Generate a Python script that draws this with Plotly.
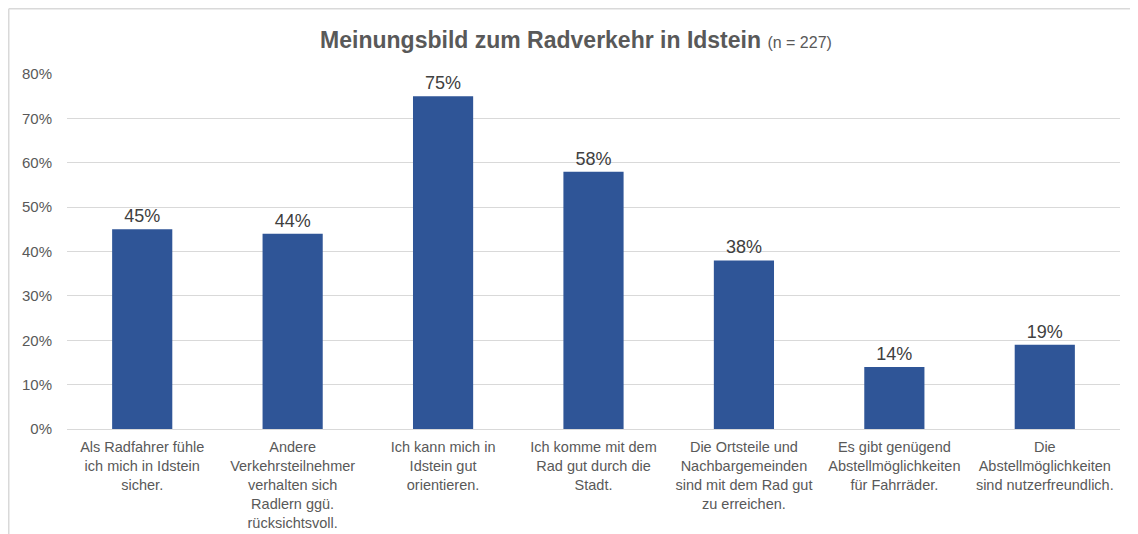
import plotly.graph_objects as go

categories = [
    "Als Radfahrer fühle<br>ich mich in Idstein<br>sicher.",
    "Andere<br>Verkehrsteilnehmer<br>verhalten sich<br>Radlern ggü.<br>rücksichtsvoll.",
    "Ich kann mich in<br>Idstein gut<br>orientieren.",
    "Ich komme mit dem<br>Rad gut durch die<br>Stadt.",
    "Die Ortsteile und<br>Nachbargemeinden<br>sind mit dem Rad gut<br>zu erreichen.",
    "Es gibt genügend<br>Abstellmöglichkeiten<br>für Fahrräder.",
    "Die<br>Abstellmöglichkeiten<br>sind nutzerfreundlich.",
]
values = [0.45, 0.44, 0.75, 0.58, 0.38, 0.14, 0.19]
tick_vals = [0, 0.1, 0.2, 0.3, 0.4, 0.5, 0.6, 0.7, 0.8]

# page body has an 8px margin, so the figure is sized/offset accordingly
W, H = 1130, 526
L, R, T, B = 59, 18, 66, 105
pw, ph = W - L - R, H - T - B

fig = go.Figure(go.Bar(
    x=categories, y=values,
    marker=dict(color="#2F5597", line=dict(width=0)),
    text=[f"{round(v*100)}%" for v in values],
    textposition="outside", cliponaxis=False,
    textfont=dict(family="Liberation Sans, Arial", size=18, color="#404040"),
))

fig.update_layout(
    width=W, height=H,
    margin=dict(l=L, r=R, t=T, b=B, autoexpand=False),
    paper_bgcolor="white", plot_bgcolor="white",
    bargap=0.6,
    showlegend=False,
    font=dict(family="Liberation Sans, Arial", color="#595959"),
    title=dict(
        text="<b>Meinungsbild zum Radverkehr in Idstein</b> <span style='font-size:16px'>(n = 227)</span>",
        x=(576 - 8) / W, xanchor="center", y=1 - 32 / H, yanchor="middle",
        font=dict(family="Liberation Sans, Arial", size=23, color="#595959"),
    ),
    xaxis=dict(
        showgrid=False, showline=True, linecolor="#D9D9D9", linewidth=1,
        ticks="", tickfont=dict(size=14.5, color="#595959"), tickangle=0,
        ticklabelstandoff=5, automargin=False,
    ),
    yaxis=dict(
        range=[0, 0.8], tickvals=tick_vals, tickformat=".0%",
        showgrid=True, gridcolor="#D9D9D9", gridwidth=1,
        zeroline=False, showline=False, ticks="", ticklabelstandoff=14,
        tickfont=dict(size=15, color="#595959"), automargin=False,
    ),
)

# outer chart frame (top and left edges visible)
x0 = (0.75 - L) / pw
y1 = 1 + (T - 0.75) / ph
fig.add_shape(type="line", xref="paper", yref="paper",
              x0=x0, x1=(W - L) / pw + 0.01, y0=y1, y1=y1,
              line=dict(color="#D9D9D9", width=1.5))
fig.add_shape(type="line", xref="paper", yref="paper",
              x0=x0, x1=x0, y0=y1, y1=-(B + 5) / ph,
              line=dict(color="#D9D9D9", width=1.5))

fig.write_html("out.html")
